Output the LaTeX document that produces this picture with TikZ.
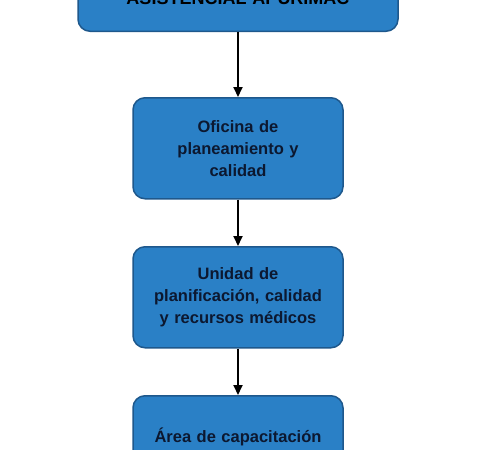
\documentclass[tikz,border=0pt]{standalone}
\usepackage{fontspec}
\setmainfont{Liberation Sans}
\usetikzlibrary{arrows.meta, positioning}
\definecolor{cajaazul}{RGB}{42,128,198}
\definecolor{bordeazul}{RGB}{30,88,140}
\definecolor{textoazul}{RGB}{12,24,48}

\begin{document}
\begin{tikzpicture}[x=1pt,y=1pt,
  caja/.style={draw=bordeazul, line width=1.5pt, fill=cajaazul, rounded corners=12pt,
    text=textoazul, font=\fontsize{16.5}{22}\selectfont\bfseries, align=center,
    minimum width=210pt, minimum height=101pt, text width=196pt},
  flecha/.style={-{Triangle[length=10pt,width=9pt]}, line width=2pt}]
  \useasboundingbox (0,0) rectangle (491,-450);
  \clip (0,0) rectangle (491,-450);
  % cajas
  \node[caja, minimum width=320pt, text width=306pt, minimum height=0pt,
    inner ysep=27pt, anchor=south, text=black,
    font=\fontsize{18}{24}\selectfont\bfseries] (red) at (238,-32) {ASISTENCIAL APURIMAC};
  \node[caja, anchor=north] (oficina) at (238,-97) {Oficina de\\ planeamiento y\\ calidad};
  \node[caja, below=46.5pt of oficina] (unidad) {Unidad de\\ planificación, calidad\\ y recursos médicos};
  \node[caja, below=46.5pt of unidad] (area) {Área de capacitación\\ \mbox{}};
  % flechas
  \draw[flecha] (red) -- (oficina);
  \draw[flecha] (oficina) -- (unidad);
  \draw[flecha] (unidad) -- (area);
\end{tikzpicture}
\end{document}
